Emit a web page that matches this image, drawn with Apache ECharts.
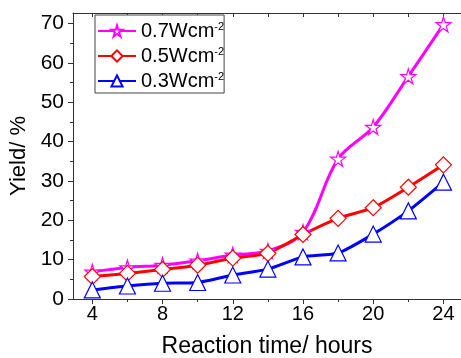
<!DOCTYPE html>
<html>
<head>
<meta charset="utf-8">
<script src="https://cdn.jsdelivr.net/npm/echarts@6/dist/echarts.min.js"></script>
<style>
	html, body { margin: 0; padding: 0; background: #fff; }
	#chart { width: 461px; height: 358px; }
</style>
</head>
<body>
<div id="chart"></div>
<script>
// reaction time (hours)
var hours = [4, 6, 8, 10, 12, 14, 16, 18, 20, 22, 24];
var yield07 = [6.9, 8.0, 8.6, 9.7, 11.2, 12.2, 17.0, 35.6, 43.7, 56.6, 69.8];
var yield05 = [5.7, 6.5, 7.5, 8.6, 10.4, 11.6, 16.4, 20.5, 23.2, 28.4, 34.1];
var yield03 = [2.3, 3.3, 4.0, 4.2, 6.1, 7.6, 10.7, 11.7, 16.5, 22.4, 29.7];
var seriesNames = ["0.7Wcm", "0.5Wcm", "0.3Wcm"];
var xLabels = [4, 8, 12, 16, 20, 24];
var xMinor = [6, 10, 14, 18, 22];
var xTop = [4, 6, 8, 10, 12, 14, 16, 18, 20, 22, 24];
var yLabels = [0, 10, 20, 30, 40, 50, 60, 70];
var yMinor = [5, 15, 25, 35, 45, 55, 65];

var starPath = "path://M50,0 L61,35 L98,35 L68,57 L79,91 L50,70 L21,91 L32,57 L2,35 L39,35 Z";
var font = "Liberation Sans";
var axisColor = "#333";

var pairs = function (ys) {
	return hours.map(function (h, i) { return [h, ys[i]]; });
};

var makeSeries = function (name, ys, color, symbol, size, smooth) {
	return {
		name: name,
		type: "line",
		data: pairs(ys),
		smooth: smooth,
		symbol: symbol,
		symbolSize: size,
		showAllSymbol: true,
		lineStyle: { color: color, width: 3 },
		itemStyle: { color: "#fff", borderColor: color, borderWidth: 1.2 },
		emphasis: { disabled: true }
	};
};

var chart = echarts.init(document.getElementById("chart"), null, { renderer: "canvas" });
var option = {
	animation: false,
	backgroundColor: "#fff",
	grid: { left: 73, right: 0, top: 13, bottom: 59, outerBoundsMode: "none" },
	legend: {
		orient: "vertical",
		left: 95,
		top: 15,
		padding: [6, 0, 2, 2],
		itemGap: 5,
		itemWidth: 38,
		itemHeight: 14,
		borderColor: "#444",
		borderWidth: 1,
		backgroundColor: "#fff",
		data: seriesNames,
		formatter: function (name) { return "{a|" + name + "}{s|-2}"; },
		textStyle: {
			fontFamily: font,
			color: "#000",
			rich: {
				a: { fontSize: 20, fontFamily: font, color: "#000", lineHeight: 20 },
				s: { fontSize: 11, fontFamily: font, color: "#000", verticalAlign: "top", lineHeight: 11, padding: [0, 0, 8, 0] }
			}
		}
	},
	xAxis: [{
		type: "value",
		min: 2.9,
		max: 25,
		name: "Reaction time/ hours",
		nameLocation: "middle",
		nameGap: 36,
		nameTextStyle: { fontFamily: font, fontSize: 23, color: "#000" },
		axisLine: { lineStyle: { color: axisColor, width: 1 } },
		axisTick: { customValues: xLabels, length: 5, inside: false, lineStyle: { color: axisColor } },
		axisLabel: { customValues: xLabels, fontFamily: font, fontSize: 20, color: "#000", margin: 5 },
		splitLine: { show: false }
	}, {
		type: "value",
		min: 2.9,
		max: 25,
		position: "bottom",
		axisLine: { show: false },
		axisTick: { customValues: xMinor, length: 3, lineStyle: { color: axisColor } },
		axisLabel: { show: false },
		splitLine: { show: false }
	}, {
		type: "value",
		min: 2.9,
		max: 25,
		position: "top",
		axisLine: { lineStyle: { color: axisColor, width: 1 } },
		axisTick: { customValues: xTop, inside: true, length: 4, lineStyle: { color: axisColor } },
		axisLabel: { show: false },
		splitLine: { show: false }
	}],
	yAxis: [{
		type: "value",
		min: 0,
		max: 72.7,
		name: "Yield/ %",
		nameLocation: "middle",
		nameGap: 37,
		nameTextStyle: { fontFamily: font, fontSize: 22, color: "#000" },
		axisLine: { show: true, lineStyle: { color: axisColor, width: 1 } },
		axisTick: { show: true, customValues: yLabels, length: 5, lineStyle: { color: axisColor } },
		axisLabel: { customValues: yLabels, fontFamily: font, fontSize: 21, color: "#000", margin: 9 },
		splitLine: { show: false }
	}, {
		type: "value",
		min: 0,
		max: 72.7,
		position: "left",
		axisLine: { show: false },
		axisTick: { show: true, customValues: yMinor, length: 3, lineStyle: { color: axisColor } },
		axisLabel: { show: false },
		splitLine: { show: false }
	}],
	series: [
		makeSeries(seriesNames[0], yield07, "#ff00ff", starPath, 15, 0.35),
		makeSeries(seriesNames[1], yield05, "#ff0000", "diamond", 16, 0.2),
		makeSeries(seriesNames[2], yield03, "#0000ff", "triangle", 16, 0.2)
	]
};
chart.setOption(option);
</script>
</body>
</html>
